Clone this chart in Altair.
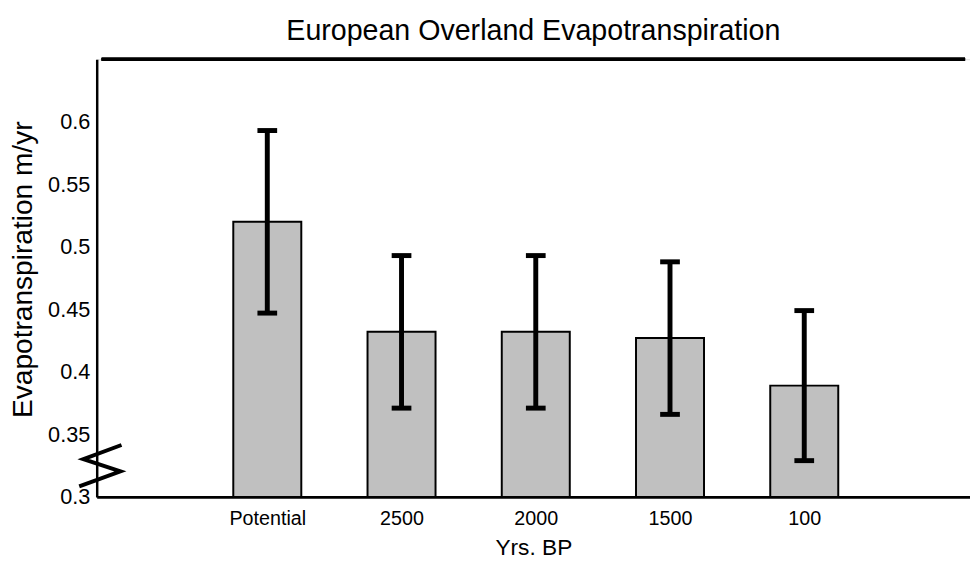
import altair as alt
import pandas as pd

# ---- data ----
categories = ["Potential", "2500", "2000", "1500", "100"]
means = [0.520, 0.432, 0.432, 0.427, 0.389]
errors = [0.073, 0.061, 0.061, 0.061, 0.060]
y_ticks = [0.3, 0.35, 0.4, 0.45, 0.5, 0.55, 0.6]
# axis-break zigzag, in data units
break_x = [-0.086, -0.370, -0.094, -0.401]
break_y = [0.3415, 0.3302, 0.3205, 0.3084]

X_DOMAIN = [-0.234, 6.198]
Y_DOMAIN = [0.3, 0.65]
W, H = 886, 444
FONT = "Liberation Sans"

df = pd.DataFrame({
    "idx": list(range(1, len(categories) + 1)),
    "cat": categories,
    "mean": means,
    "lo": [m - e for m, e in zip(means, errors)],
    "hi": [m + e for m, e in zip(means, errors)],
})
brk = pd.DataFrame({"bx": break_x, "by": break_y, "order": list(range(len(break_x)))})

label_expr = "[" + ",".join("'%s'" % c for c in categories) + "][datum.value - 1]"

x_scale = alt.Scale(domain=X_DOMAIN, nice=False, zero=False)
y_scale = alt.Scale(domain=Y_DOMAIN, nice=False, zero=False)

x_axis = alt.Axis(
    values=list(range(1, len(categories) + 1)), labelExpr=label_expr,
    title="Yrs. BP", ticks=False, grid=False, labelOverlap=False,
    labelFontSize=20, labelPadding=12, labelColor="black", labelFont=FONT,
    titleFontSize=23, titleFont=FONT, titleFontWeight="normal", titleColor="black",
    titleY=58, titleBaseline="alphabetic",
    domainWidth=3, domainColor="black",
)
y_axis = alt.Axis(
    values=y_ticks, format="~g", title="Evapotranspiration m/yr",
    ticks=False, grid=False, labelOverlap=False,
    labelFontSize=22, labelPadding=7, labelColor="black", labelFont=FONT,
    titleFontSize=28.5, titleFont=FONT, titleFontWeight="normal", titleColor="black",
    titleAngle=270, titleX=-66, titleY=213, titleBaseline="alphabetic", titleAlign="center",
    domainWidth=2.5, domainColor="black",
)

base = alt.Chart(df)

bars = base.mark_bar(size=69, fill="#c0c0c0", stroke="black", strokeWidth=2).encode(
    x=alt.X("idx:Q", scale=x_scale, axis=x_axis),
    y=alt.Y("mean:Q", scale=y_scale, axis=y_axis),
    y2=alt.datum(Y_DOMAIN[0]),
)

stems = base.mark_rule(color="black", strokeWidth=5).encode(
    x=alt.X("idx:Q", scale=x_scale, axis=x_axis),
    y=alt.Y("lo:Q", scale=y_scale, axis=y_axis),
    y2="hi:Q",
)

caps_lo = base.mark_tick(orient="horizontal", size=20, thickness=5, color="black", opacity=1).encode(
    x=alt.X("idx:Q", scale=x_scale, axis=x_axis),
    y=alt.Y("lo:Q", scale=y_scale, axis=y_axis),
)
caps_hi = base.mark_tick(orient="horizontal", size=20, thickness=5, color="black", opacity=1).encode(
    x=alt.X("idx:Q", scale=x_scale, axis=x_axis),
    y=alt.Y("hi:Q", scale=y_scale, axis=y_axis),
)

top_line = base.mark_rule(color="black", strokeWidth=3).encode(
    x=alt.datum(X_DOMAIN[0]),
    x2=alt.datum(X_DOMAIN[1]),
    y=alt.datum(Y_DOMAIN[1]),
)

zigzag = alt.Chart(brk).mark_line(color="black", strokeWidth=4).encode(
    x=alt.X("bx:Q", scale=x_scale, axis=x_axis),
    y=alt.Y("by:Q", scale=y_scale, axis=y_axis),
    order="order:Q",
)

chart = alt.layer(bars, stems, caps_lo, caps_hi, top_line, zigzag).properties(
    width=W, height=H,
    title=alt.TitleParams(
        "European Overland Evapotranspiration", fontSize=29, font=FONT,
        fontWeight="normal", anchor="middle", frame="group", offset=15, dy=26,
        baseline="alphabetic", color="black",
    ),
    autosize=alt.AutoSizeParams(type="none"),
    padding={"left": 90, "top": 48, "right": 0, "bottom": 60},
).configure_view(stroke=None).configure(background="white")

chart.save("out.html", embed_options={"renderer": "svg", "actions": False})
